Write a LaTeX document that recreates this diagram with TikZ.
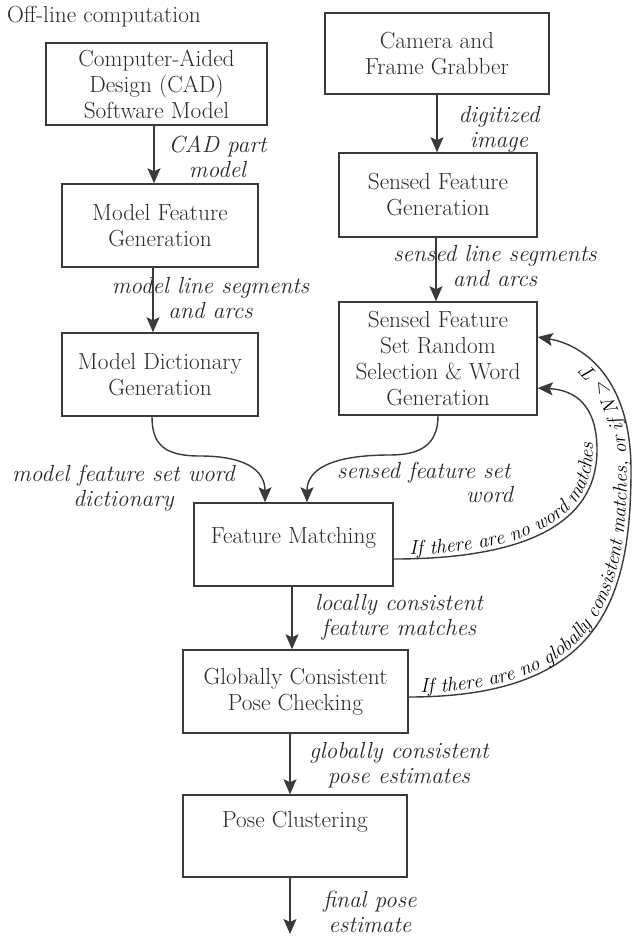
\documentclass[tikz,border=0pt]{standalone}
\usepackage{fontspec}
\usetikzlibrary{arrows.meta,decorations.text}
\definecolor{ln}{HTML}{3A3A3A}
\definecolor{tx}{HTML}{2A2A2A}
\begin{document}
\begin{tikzpicture}[x=1pt,y=-1pt,
  box/.style={draw=ln, line width=1.5pt, inner sep=0pt, align=center, text=tx,
    font=\fontsize{23.3}{26}\selectfont},
  lab/.style={inner sep=0pt, align=center, text=tx,
    font=\fontsize{23.3}{25}\selectfont\itshape},
  arr/.style={draw=ln, line width=1.4pt, -{Stealth[length=15pt,width=13pt,inset=3pt]}},
  curvetext/.style={decorate, decoration={text along path, raise=4pt,
    text align={left indent=#1}}}
]
\useasboundingbox (0,0) rectangle (634,936);

\node[anchor=base west, inner sep=0pt, text=tx, font=\fontsize{23.3}{26}\selectfont] (offline) at (7,23) {Off-line computation};

% boxes
\node[box, minimum width=221pt, minimum height=82pt] (cad) at (156.5,84) {Computer-Aided\\Design (CAD)\\Software Model};
\node[box, minimum width=196pt, minimum height=83pt] (mfg) at (160,225.5) {Model Feature\\Generation};
\node[box, minimum width=196pt, minimum height=83pt] (mdg) at (160,374.5) {Model Dictionary\\Generation};
\node[box, minimum width=224pt, minimum height=81pt] (cam) at (437,53.5) {Camera and\\Frame Grabber};
\node[box, minimum width=198pt, minimum height=84pt] (sfg) at (438,195) {Sensed Feature\\Generation};
\node[box, minimum width=198pt, minimum height=113pt] (sfs) at (438,358.5) {Sensed Feature\\Set Random\\Selection \& Word\\Generation};
\node[box, minimum width=199pt, minimum height=83pt, text height=16.2pt, text depth=19.2pt] (fm) at (293.5,544.5) {Feature Matching};
\node[box, minimum width=225pt, minimum height=83pt] (gcp) at (295.5,691.5) {Globally Consistent\\Pose Checking};
\node[box, minimum width=224pt, minimum height=82pt, text height=16.2pt, text depth=34.2pt] (pc) at (295,836) {Pose Clustering};

% labels
\node[lab] (l1) at (217.5,156.5) {CAD part\\model};
\node[lab] (l2) at (499,129) {digitized\\image};
\node[lab] (l3) at (210.5,298.5) {model line segments\\and arcs};
\node[lab] (l4) at (495,266) {sensed line segments\\and arcs};
\node[lab] (l5) at (123.5,488) {model feature set word\\dictionary};
\node[lab, anchor=base west] (l6a) at (337,478) {sensed feature set};
\node[lab, anchor=base west] (l6b) at (466,502) {word};
\node[lab] (l7) at (399,617) {locally consistent\\feature matches};
\node[lab] (l8) at (399,765.5) {globally consistent\\pose estimates};
\node[lab] (l9) at (370,912) {final pose\\estimate};

\coordinate (out) at (290,934);

% straight connectors
\draw[arr] ([xshift=-2.5pt]cad.south) -- ([xshift=-6pt]mfg.north);
\draw[arr] ([xshift=-7pt]mfg.south) -- ([xshift=-7pt]mdg.north);
\draw[arr] (cam.south) -- ([xshift=-1pt]sfg.north);
\draw[arr] ([xshift=-2pt]sfg.south) -- ([xshift=-2pt]sfs.north);
\draw[arr] ([xshift=-1.5pt]fm.south) -- ([xshift=-3.5pt]gcp.north);
\draw[arr] ([xshift=-5.5pt]gcp.south) -- ([xshift=-5pt]pc.north);
\draw[arr] ([xshift=-5pt]pc.south) -- (out);

% curved connectors into feature matching
\draw[arr] ([xshift=-8pt]mdg.south) .. controls (152,445) and (165,456) .. (200,456)
   .. controls (245,456) and (265,470) .. ([xshift=-28.5pt]fm.north);
\draw[arr] (sfs.south) .. controls (438,445) and (420,455) .. (390,455)
   .. controls (330,455) and (307,470) .. ([xshift=13.5pt]fm.north);

% feedback loops
\draw[arr] ([yshift=-14.5pt]fm.east) .. controls (490,559) and (597,540) .. (597,450)
   .. controls (597,405) and (575,390) .. ([yshift=-29.5pt]sfs.east);
\path[curvetext=16pt, decoration={text={|\fontsize{20}{20}\selectfont\itshape|If there are no word matches}}]
   ([yshift=-14.5pt]fm.east) .. controls (490,559) and (597,540) .. (597,450)
   .. controls (597,405) and (575,390) .. ([yshift=-29.5pt]sfs.east);

\draw[arr] ([yshift=-5.5pt]gcp.east) .. controls (600,697) and (631,600) .. (631,470)
   .. controls (631,380) and (585,345) .. ([yshift=21.5pt]sfs.east);
\path[curvetext=12pt, decoration={text={|\fontsize{20}{20}\selectfont\itshape|If there are no globally consistent matches, or if N > T}}]
   ([yshift=-5.5pt]gcp.east) .. controls (600,697) and (631,600) .. (631,470)
   .. controls (631,380) and (585,345) .. ([yshift=21.5pt]sfs.east);
\end{tikzpicture}
\end{document}
